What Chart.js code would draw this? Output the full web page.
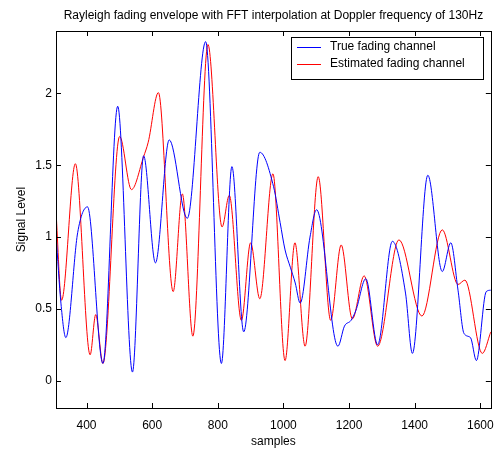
<!DOCTYPE html>
<html><head><meta charset="utf-8">
<script src="https://cdn.jsdelivr.net/npm/chart.js@4.4.1/dist/chart.umd.min.js"></script>
<style>html,body{margin:0;padding:0;background:#fff;}canvas{display:block;}</style>
</head><body>
<canvas id="c" width="504" height="452"></canvas>
<script>
const titleText = "Rayleigh fading envelope with FFT interpolation at Doppler frequency of 130Hz";
const xLabel = "samples";
const yLabel = "Signal Level";
const seriesNames = ["True fading channel", "Estimated fading channel"];
const xTicks = [400, 600, 800, 1000, 1200, 1400, 1600];
const yTicks = [0, 0.5, 1, 1.5, 2];
const xRange = [307, 1632];
const yRange = [-0.19, 2.434];

const trueSamples = [307, 322, 337, 373, 403, 450, 495, 540, 574, 610, 652, 707, 763, 811, 843, 879, 928, 970, 990, 1005, 1021, 1036, 1051, 1081, 1101, 1166, 1186, 1206, 1221, 1251, 1287, 1332, 1372, 1393, 1440, 1484, 1510, 1532, 1550, 1570, 1588, 1618, 1632];
const trueValues  = [1.02, 0.54, 0.30, 1.03, 1.21, 0.12, 1.91, 0.06, 1.565, 0.82, 1.676, 1.13, 2.36, 0.12, 1.49, 0.34, 1.59, 1.35, 1.10, 0.91, 0.79, 0.68, 0.54, 1.00, 1.19, 0.24, 0.38, 0.42, 0.49, 0.71, 0.25, 0.97, 0.61, 0.19, 1.43, 0.76, 0.96, 0.63, 0.33, 0.30, 0.14, 0.62, 0.63];

const estSamples = [307, 324, 366, 411, 428, 450, 501, 537, 574, 588, 619, 664, 692, 724, 770, 813, 835, 872, 900, 928, 968, 1005, 1035, 1066, 1106, 1144, 1176, 1210, 1246, 1287, 1352, 1422, 1484, 1532, 1553, 1606, 1632];
const estValues  = [1.18, 0.56, 1.51, 0.18, 0.46, 0.12, 1.70, 1.33, 1.56, 1.66, 2.005, 0.62, 1.30, 0.31, 2.34, 1.07, 1.29, 0.42, 0.96, 0.57, 1.44, 0.14, 0.96, 0.24, 1.42, 0.42, 0.945, 0.43, 0.73, 0.24, 0.98, 0.45, 1.05, 0.67, 0.70, 0.19, 0.34];

const toPoints = (xs, ys) => xs.map((x, i) => ({x: x, y: ys[i]}));
const FONT = "'Liberation Sans', Arial, sans-serif";
Chart.defaults.font.family = FONT;
Chart.defaults.color = '#000';

const framePlugin = {
  id: 'frame',
  afterDraw(chart) {
    const {ctx, chartArea: a, scales} = chart;
    ctx.save();
    ctx.strokeStyle = '#000';
    ctx.lineWidth = 1;
    ctx.strokeRect(Math.round(a.left) + 0.5, Math.round(a.top) + 0.5, Math.round(a.right - a.left), Math.round(a.bottom - a.top));
    const tl = 5;
    ctx.beginPath();
    xTicks.forEach(v => {
      const px = Math.round(scales.x.getPixelForValue(v)) + 0.5;
      ctx.moveTo(px, a.bottom); ctx.lineTo(px, a.bottom - tl);
      ctx.moveTo(px, a.top); ctx.lineTo(px, a.top + tl);
    });
    yTicks.forEach(v => {
      const py = Math.round(scales.y.getPixelForValue(v)) + 0.5;
      ctx.moveTo(a.left, py); ctx.lineTo(a.left + tl, py);
      ctx.moveTo(a.right, py); ctx.lineTo(a.right - tl, py);
    });
    ctx.stroke();
    // legend
    const bx = 291.5, by = 37.5, bw = 192, bh = 42;
    ctx.fillStyle = '#fff';
    ctx.fillRect(bx, by, bw, bh);
    ctx.strokeRect(bx, by, bw, bh);
    ctx.font = '12px ' + FONT;
    ctx.textBaseline = 'middle';
    ctx.textAlign = 'left';
    chart.data.datasets.forEach((ds, i) => {
      const yy = 47 + i * 16.5;
      ctx.strokeStyle = ds.borderColor;
      ctx.beginPath(); ctx.moveTo(297, Math.round(yy) + 0.5); ctx.lineTo(321, Math.round(yy) + 0.5); ctx.stroke();
      ctx.fillStyle = '#000';
      ctx.fillText(ds.label, 330, yy);
    });
    ctx.restore();
  }
};

new Chart(document.getElementById('c'), {
  type: 'line',
  data: {
    datasets: [
      {label: seriesNames[0], data: toPoints(trueSamples, trueValues), borderColor: '#0000ff', borderWidth: 1, pointRadius: 0, cubicInterpolationMode: 'monotone', fill: false},
      {label: seriesNames[1], data: toPoints(estSamples, estValues), borderColor: '#ff0000', borderWidth: 1, pointRadius: 0, cubicInterpolationMode: 'monotone', fill: false}
    ]
  },
  options: {
    responsive: false,
    animation: false,
    layout: {padding: {left: 0, right: 11, top: 0, bottom: 0}},
    plugins: {
      legend: {display: false},
      tooltip: {enabled: false},
      title: {display: true, text: titleText, fullSize: false, color: '#000', font: {size: 12, weight: 'normal'}, padding: {top: 8, bottom: 8.6}}
    },
    scales: {
      x: {
        type: 'linear', min: xRange[0], max: xRange[1],
        grid: {display: false, drawTicks: false},
        border: {display: false},
        afterBuildTicks: s => { s.ticks = xTicks.map(v => ({value: v})); },
        afterFit: s => { s.height = 44; },
        ticks: {font: {size: 12}, color: '#000', padding: 10, maxRotation: 0, autoSkip: false, callback: v => String(v)},
        title: {display: true, text: xLabel, color: '#000', font: {size: 12}, padding: {top: 0, bottom: 3}}
      },
      y: {
        type: 'linear', min: yRange[0], max: yRange[1],
        grid: {display: false, drawTicks: false},
        border: {display: false},
        afterBuildTicks: s => { s.ticks = yTicks.map(v => ({value: v})); },
        afterFit: s => { s.width = 56; },
        ticks: {font: {size: 12}, color: '#000', padding: 4, autoSkip: false, callback: v => String(v)},
        title: {display: true, text: yLabel, color: '#000', font: {size: 12}, padding: {top: 14, bottom: 0}}
      }
    }
  },
  plugins: [framePlugin]
});
</script>
</body></html>
